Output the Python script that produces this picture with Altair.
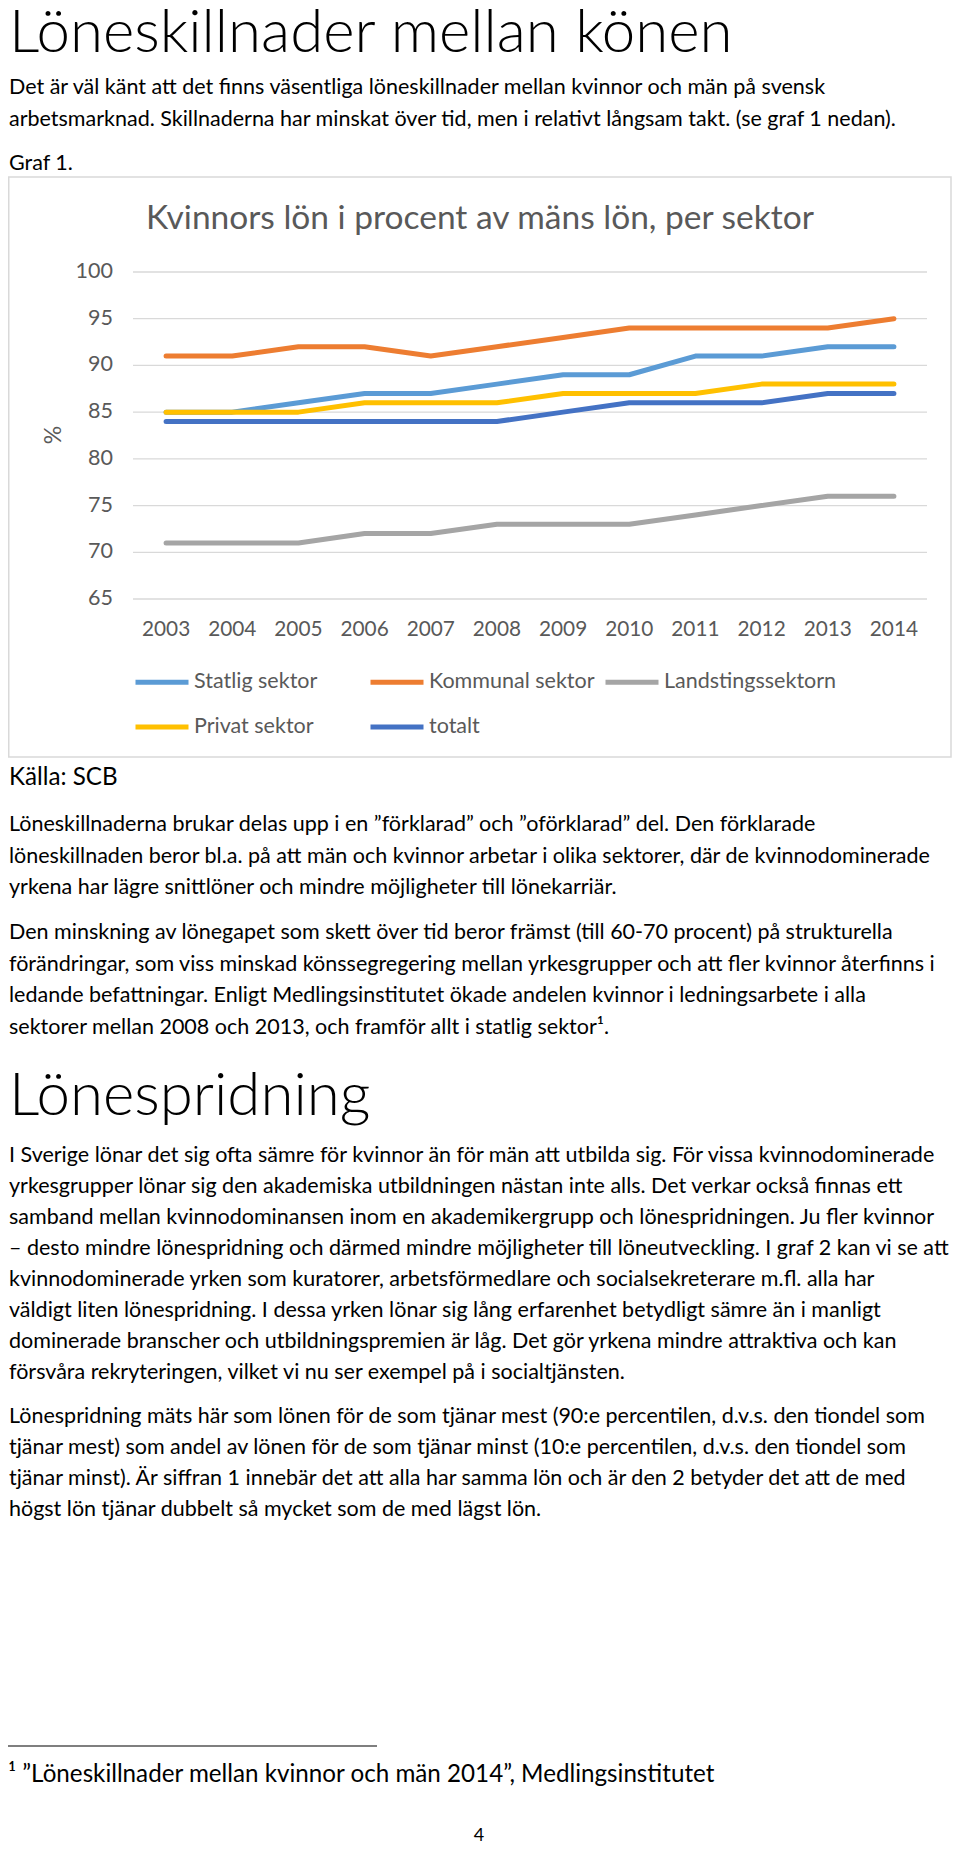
import altair as alt
import pandas as pd

# ---- chart data ----
years = list(range(2003, 2015))
series = ["Statlig sektor", "Kommunal sektor", "Landstingssektorn", "Privat sektor", "totalt"]
colors = ["#5B9BD5", "#ED7D31", "#A5A5A5", "#FFC000", "#4472C4"]
statlig = [85, 85, 86, 87, 87, 88, 89, 89, 91, 91, 92, 92]
kommunal = [91, 91, 92, 92, 91, 92, 93, 94, 94, 94, 94, 95]
landsting = [71, 71, 71, 72, 72, 73, 73, 73, 74, 75, 76, 76]
privat = [85, 85, 85, 86, 86, 86, 87, 87, 87, 88, 88, 88]
totalt = [84, 84, 84, 84, 84, 84, 85, 86, 86, 86, 87, 87]
y_ticks = [65, 70, 75, 80, 85, 90, 95, 100]

chart_title = "Kvinnors lön i procent av mäns lön, per sektor"
y_title = "%"

# ---- page text ----
heading1 = "Löneskillnader mellan könen"
intro = [
    "Det är väl känt att det finns väsentliga löneskillnader mellan kvinnor och män på svensk",
    "arbetsmarknad. Skillnaderna har minskat över tid, men i relativt långsam takt. (se graf 1 nedan).",
]
graf_label = "Graf 1."
kalla = "Källa: SCB"
para1 = [
    "Löneskillnaderna brukar delas upp i en ”förklarad” och ”oförklarad” del. Den förklarade",
    "löneskillnaden beror bl.a. på att män och kvinnor arbetar i olika sektorer, där de kvinnodominerade",
    "yrkena har lägre snittlöner och mindre möjligheter till lönekarriär.",
]
para2 = [
    "Den minskning av lönegapet som skett över tid beror främst (till 60-70 procent) på strukturella",
    "förändringar, som viss minskad könssegregering mellan yrkesgrupper och att fler kvinnor återfinns i",
    "ledande befattningar. Enligt Medlingsinstitutet ökade andelen kvinnor i ledningsarbete i alla",
    "sektorer mellan 2008 och 2013, och framför allt i statlig sektor¹.",
]
heading2 = "Lönespridning"
para3 = [
    "I Sverige lönar det sig ofta sämre för kvinnor än för män att utbilda sig. För vissa kvinnodominerade",
    "yrkesgrupper lönar sig den akademiska utbildningen nästan inte alls. Det verkar också finnas ett",
    "samband mellan kvinnodominansen inom en akademikergrupp och lönespridningen. Ju fler kvinnor",
    "– desto mindre lönespridning och därmed mindre möjligheter till löneutveckling. I graf 2 kan vi se att",
    "kvinnodominerade yrken som kuratorer, arbetsförmedlare och socialsekreterare m.fl. alla har",
    "väldigt liten lönespridning. I dessa yrken lönar sig lång erfarenhet betydligt sämre än i manligt",
    "dominerade branscher och utbildningspremien är låg. Det gör yrkena mindre attraktiva och kan",
    "försvåra rekryteringen, vilket vi nu ser exempel på i socialtjänsten.",
]
para4 = [
    "Lönespridning mäts här som lönen för de som tjänar mest (90:e percentilen, d.v.s. den tiondel som",
    "tjänar mest) som andel av lönen för de som tjänar minst (10:e percentilen, d.v.s. den tiondel som",
    "tjänar minst). Är siffran 1 innebär det att alla har samma lön och är den 2 betyder det att de med",
    "högst lön tjänar dubbelt så mycket som de med lägst lön.",
]
footnote = "¹ ”Löneskillnader mellan kvinnor och män 2014”, Medlingsinstitutet"
page_no = "4"

# ---- build tables ----
values = statlig + kommunal + landsting + privat + totalt
df = pd.DataFrame({
    "year": years * len(series),
    "series": [s for s in series for _ in years],
    "value": values,
})
ticks_df = pd.DataFrame({"tick": y_ticks})
years_df = pd.DataFrame({"year": years})
one = pd.DataFrame({"k": [0]})

FONT = "Lato"
GREY = "#595959"
BODY = 21.5
BIG = 24.2

xs = alt.Scale(type="point", domain=years, range=[125, 919], padding=0.5)
ys = alt.Scale(domain=[65, 100], range=[591, 264], nice=False, zero=False)

box = alt.Chart(one).mark_rect(fill="white", stroke="#D9D9D9", strokeWidth=1.5).encode(
    x=alt.value(0.75), x2=alt.value(943), y=alt.value(169), y2=alt.value(749)
)

grid = alt.Chart(ticks_df).mark_rule(color="#D9D9D9", strokeWidth=1.3).encode(
    y=alt.Y("tick:Q", scale=ys, axis=None), x=alt.value(125), x2=alt.value(919)
)

tick_labels = alt.Chart(ticks_df).mark_text(
    align="right", baseline="middle", font=FONT, fontSize=21.5, color=GREY
).encode(y=alt.Y("tick:Q", scale=ys, axis=None), x=alt.value(105), text="tick:Q")

year_labels = alt.Chart(years_df).mark_text(
    align="center", baseline="middle", font=FONT, fontSize=20.8, color=GREY
).encode(x=alt.X("year:O", scale=xs, axis=None), y=alt.value(622), text="year:O")

ctitle = alt.Chart(one).mark_text(
    text=chart_title, align="center", baseline="alphabetic", font=FONT, fontSize=33.5, color=GREY
).encode(x=alt.value(472), y=alt.value(221))

ylabel = alt.Chart(one).mark_text(
    text=y_title, align="center", baseline="middle", angle=270, font=FONT, fontSize=23, color=GREY
).encode(x=alt.value(46), y=alt.value(427))

lines = alt.Chart(df).mark_line(strokeWidth=5, strokeCap="round", strokeJoin="round").encode(
    x=alt.X("year:O", scale=xs, axis=None),
    y=alt.Y("value:Q", scale=ys, axis=None),
    color=alt.Color(
        "series:N",
        scale=alt.Scale(domain=series, range=colors),
        legend=alt.Legend(
            title=None, orient="none", legendX=125, legendY=645, direction="horizontal",
            columns=3, symbolType="stroke", symbolSize=2809, symbolStrokeWidth=5,
            labelFont=FONT, labelFontSize=21.5, labelColor=GREY, labelOffset=3,
            labelLimit=400, columnPadding=-7, rowPadding=5, gridAlign="all",
        ),
    ),
)


def block(txt, x, y, size=BODY, lh=31.5, **kw):
    return alt.Chart(one).mark_text(
        text=txt, align="left", baseline="alphabetic", font=FONT, fontSize=size,
        lineHeight=lh, color="black", **kw
    ).encode(x=alt.value(x), y=alt.value(y))


texts = [
    block(heading1, 1, 44, size=60, fontWeight=300),
    block(intro, 1, 86, lh=32),
    block(graf_label, 1, 162),
    block(kalla, 1, 777, size=BIG),
    block(para1, 1, 823),
    block(para2, 1, 931),
    block(heading2, 1, 1107, size=60, fontWeight=300),
    block(para3, 1, 1154, lh=31),
    block(para4, 1, 1415, lh=31),
    block(footnote, 0, 1774, size=BIG),
]

fn_rule = alt.Chart(one).mark_rule(color="black", strokeWidth=1.2).encode(
    x=alt.value(0), x2=alt.value(369), y=alt.value(1738)
)
page = alt.Chart(one).mark_text(
    text=page_no, align="center", baseline="alphabetic", font=FONT, fontSize=18, color="black"
).encode(x=alt.value(471), y=alt.value(1833))

chart = alt.layer(
    box, grid, tick_labels, year_labels, ctitle, ylabel, lines, *texts, fn_rule, page
).properties(
    width=944, height=1836, autosize=alt.AutoSizeParams(type="none"), padding=0
).configure_view(strokeWidth=0)

chart.save("out.html", embed_options={"renderer": "svg", "actions": False})
